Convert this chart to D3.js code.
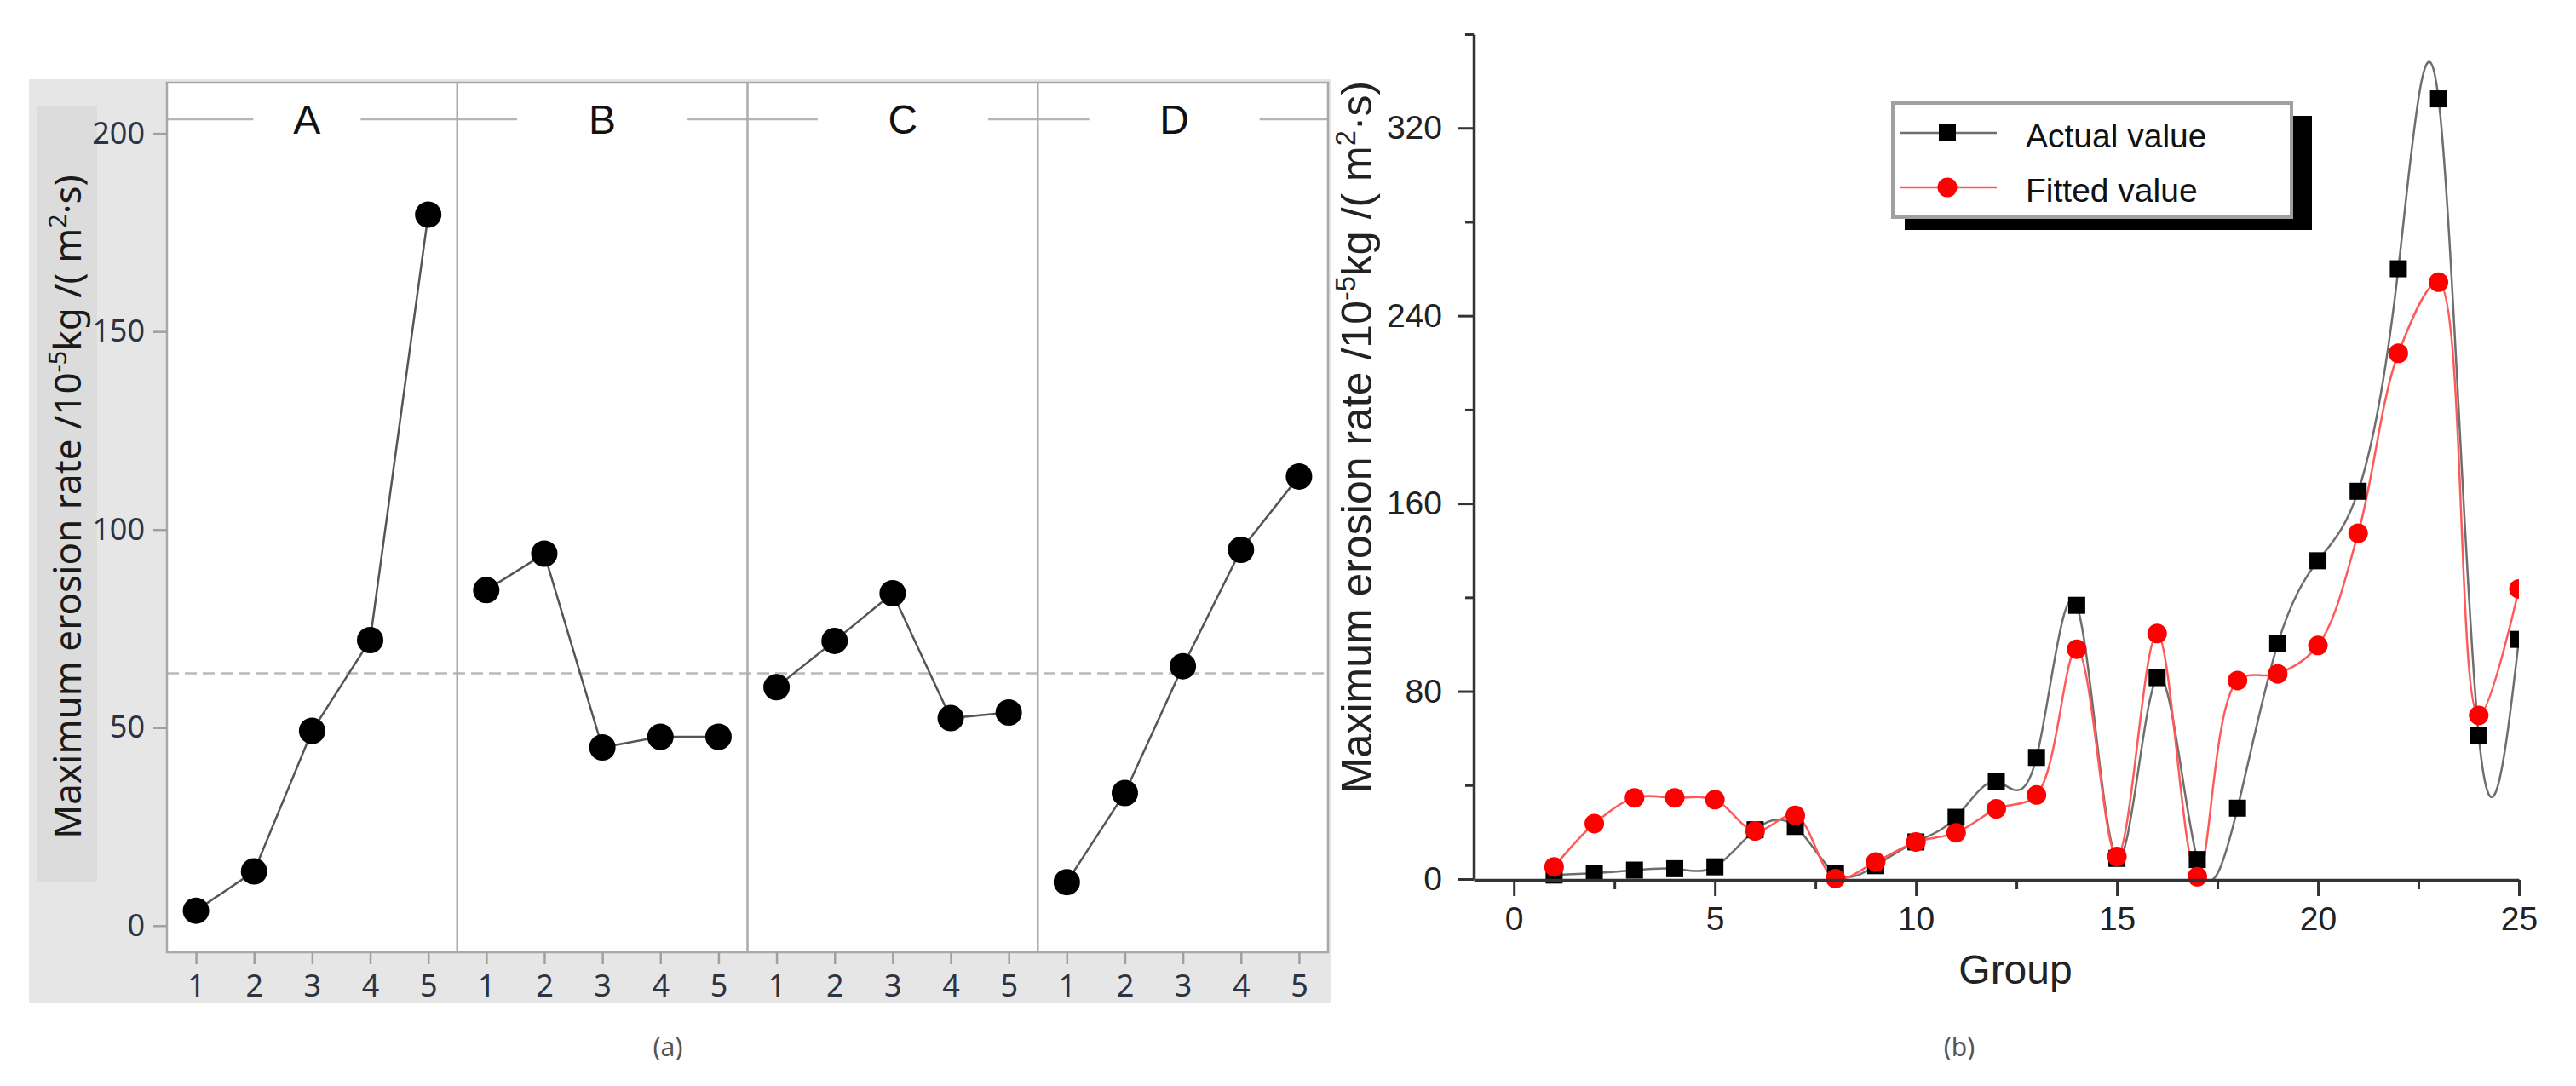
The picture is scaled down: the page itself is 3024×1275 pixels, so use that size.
<!DOCTYPE html>
<html>
<head>
<meta charset="utf-8">
<script src="https://cdn.jsdelivr.net/npm/d3@7"></script>
<style>
  html, body { margin: 0; padding: 0; background: #ffffff; }
  svg { display: block; }
</style>
</head>
<body>
<svg id="chart" width="3024" height="1275"></svg>
<script>
// ---------------- Data: panel (a) main-effects plot ----------------
const factorLabels = ["A", "B", "C", "D"];
const levels = [1, 2, 3, 4, 5];
const meansA = [3.8, 13.7, 49.2, 72.1, 179.5];
const meansB = [84.7, 93.9, 45.0, 47.7, 47.7];
const meansC = [60.2, 71.9, 83.9, 52.4, 53.8];
const meansD = [11.0, 33.5, 65.5, 94.9, 113.4];
const grandMean = 63.7;
const yTicksA = [0, 50, 100, 150, 200];
const yLabelA = ["Maximum erosion rate /10", "-5", "kg /( m", "2", "·s)"];

// ---------------- Data: panel (b) actual vs fitted ----------------
const groups = [1, 2, 3, 4, 5, 6, 7, 8, 9, 10, 11, 12, 13, 14, 15, 16, 17, 18, 19, 20, 21, 22, 23, 24, 25];
const actualValues = [1.7, 2.5, 3.8, 4.4, 5.2, 21.0, 22.4, 2.5, 5.7, 15.8, 26.3, 41.5, 51.8, 116.6, 8.8, 85.8, 8.3, 30.2, 100.2, 135.6, 165.2, 260.0, 332.4, 61.1, 102.1];
const fittedValues = [5.2, 23.6, 34.6, 34.6, 33.8, 20.5, 27.1, 0.2, 7.3, 15.8, 19.7, 29.9, 35.8, 97.9, 9.6, 104.6, 1.0, 84.6, 87.4, 99.5, 147.3, 224.0, 254.3, 69.7, 123.6];
const seriesNames = ["Actual value", "Fitted value"];
const yTicksBMajor = [0, 80, 160, 240, 320];
const yTicksBMinor = [40, 120, 200, 280, 360];
const xTicksBMajor = [0, 5, 10, 15, 20, 25];
const xTicksBMinor = [2.5, 7.5, 12.5, 17.5, 22.5];
const xLabelB = "Group";
const yLabelB = ["Maximum erosion rate /10", "-5", "kg /( m", "2", "·s)"];

const meansByFactor = [meansA, meansB, meansC, meansD];

const svg = d3.select("#chart");
svg.append("rect").attr("width", 3024).attr("height", 1275).attr("fill", "#ffffff");

// helper to write text with superscripts (parts alternate normal / sup)
function richText(sel, parts, fs) {
  const up = fs * 0.38;
  parts.forEach((p, i) => {
    const isSup = i % 2 === 1;
    const t = sel.append("tspan").text(p);
    if (isSup) { t.attr("font-size", fs * 0.65).attr("dy", -up); }
    else if (i > 0) { t.attr("dy", up); }
  });
}

// =================== PANEL (a) ===================
const A = { left: 196, right: 1559, top: 97, bottom: 1118 };
const fontA = "'Noto Sans', 'Open Sans', sans-serif";
const gA = svg.append("g");

gA.append("rect").attr("x", 34).attr("y", 93).attr("width", 1528).attr("height", 1085).attr("fill", "#e6e6e6");
gA.append("rect").attr("x", 43).attr("y", 125).attr("width", 71).attr("height", 910).attr("fill", "#dcdcdc");
gA.append("rect").attr("x", A.left).attr("y", A.top).attr("width", A.right - A.left).attr("height", A.bottom - A.top).attr("fill", "#ffffff");

const yA = d3.scaleLinear().domain([0, 200]).range([1086.8, 156.6]);
const panelX = d3.scaleBand().domain(factorLabels).range([A.left, A.right]);

// mean reference line
gA.append("line")
  .attr("x1", A.left).attr("x2", A.right)
  .attr("y1", yA(grandMean)).attr("y2", yA(grandMean))
  .attr("stroke", "#b9b9b9").attr("stroke-width", 2.5).attr("stroke-dasharray", "14,7");

// strip lines with gaps around labels
const stripY = 140;
const stripOffsets = [-6, 0, 12, -10];
const stripGaps = [126, 200, 200, 200];
factorLabels.forEach((f, i) => {
  const x0 = panelX(f), x1 = x0 + panelX.bandwidth();
  const cx = x0 + panelX.bandwidth() / 2 + stripOffsets[i];
  const g0 = cx - stripGaps[i] / 2, g1 = cx + stripGaps[i] / 2;
  gA.append("line").attr("x1", x0).attr("x2", g0).attr("y1", stripY).attr("y2", stripY)
    .attr("stroke", "#b5b5b5").attr("stroke-width", 2.5);
  gA.append("line").attr("x1", g1).attr("x2", x1).attr("y1", stripY).attr("y2", stripY)
    .attr("stroke", "#b5b5b5").attr("stroke-width", 2.5);
  gA.append("text").attr("x", cx).attr("y", 157).attr("text-anchor", "middle")
    .attr("font-family", "'Liberation Sans', Arial, sans-serif").attr("font-size", 48)
    .attr("fill", "#111").text(f);
});

// dividers
factorLabels.slice(1).forEach(f => {
  gA.append("line").attr("x1", panelX(f)).attr("x2", panelX(f)).attr("y1", A.top).attr("y2", A.bottom)
    .attr("stroke", "#ababab").attr("stroke-width", 2.5);
});
// frame
gA.append("rect").attr("x", A.left).attr("y", A.top).attr("width", A.right - A.left).attr("height", A.bottom - A.top)
  .attr("fill", "none").attr("stroke", "#a8a8a8").attr("stroke-width", 2.5);

// data lines and points, x axes per panel
factorLabels.forEach((f, i) => {
  const x0 = panelX(f);
  const xs = d3.scalePoint().domain(levels).range([x0, x0 + panelX.bandwidth()]).padding(0.5);
  const data = levels.map((lv, j) => ({ lv, v: meansByFactor[i][j] }));
  gA.append("path").datum(data)
    .attr("d", d3.line().x(d => xs(d.lv)).y(d => yA(d.v)))
    .attr("fill", "none").attr("stroke", "#555555").attr("stroke-width", 2.5);
  gA.selectAll(null).data(data).enter().append("circle")
    .attr("cx", d => xs(d.lv)).attr("cy", d => yA(d.v)).attr("r", 15.5).attr("fill", "#000");

  const ax = gA.append("g").attr("transform", `translate(0,${A.bottom})`)
    .call(d3.axisBottom(xs).tickSize(14).tickPadding(12));
  ax.select(".domain").remove();
  ax.selectAll("line").attr("stroke", "#a0a0a0").attr("stroke-width", 2.5);
  ax.selectAll("text").attr("font-family", fontA).attr("font-size", 36).attr("fill", "#2d3340");
});

const ayA = gA.append("g").attr("transform", `translate(${A.left},0)`)
  .call(d3.axisLeft(yA).tickValues(yTicksA).tickSize(16).tickPadding(10));
ayA.select(".domain").remove();
ayA.selectAll("line").attr("stroke", "#a0a0a0").attr("stroke-width", 2.5);
ayA.selectAll("text").attr("font-family", fontA).attr("font-size", 36).attr("fill", "#2d3340");

const labA = gA.append("text").attr("transform", "translate(95,595) rotate(-90)")
  .attr("text-anchor", "middle").attr("font-family", fontA).attr("font-size", 44).attr("fill", "#1a1a1a");
richText(labA, yLabelA, 44);

svg.append("text").attr("x", 784).attr("y", 1240).attr("text-anchor", "middle")
  .attr("font-family", fontA).attr("font-size", 30).attr("fill", "#555").text("(a)");

// =================== PANEL (b) ===================
const B = { left: 1730, right: 2957, top: 39, bottom: 1033 };
const fontB = "'Liberation Sans', Arial, sans-serif";
const gB = svg.append("g");
const xB = d3.scaleLinear().domain([-1, 25]).range([B.left, B.right]);
const yB = d3.scaleLinear().domain([0, 360]).range([B.bottom - 1, B.top + 1]);

svg.append("defs").html(
  `<clipPath id="clipB"><rect x="${B.left}" y="${B.top}" width="${B.right - B.left}" height="${B.bottom - B.top}"></rect></clipPath>` +
  `<clipPath id="clipBm"><rect x="${B.left}" y="0" width="${B.right - B.left}" height="1275"></rect></clipPath>`
);

const actualData = groups.map((g, i) => ({ g, v: actualValues[i] }));
const fittedData = groups.map((g, i) => ({ g, v: fittedValues[i] }));
const curveActual = d3.line().x(d => xB(d.g)).y(d => yB(d.v)).curve(d3.curveNatural);
const curveFitted = d3.line().x(d => xB(d.g)).y(d => yB(d.v)).curve(d3.curveCatmullRom.alpha(0.5));

gB.append("path").datum(actualData).attr("d", curveActual).attr("clip-path", "url(#clipB)")
  .attr("fill", "none").attr("stroke", "#6e6e6e").attr("stroke-width", 2.5);
gB.append("path").datum(fittedData).attr("d", curveFitted).attr("clip-path", "url(#clipB)")
  .attr("fill", "none").attr("stroke", "#ff5a5a").attr("stroke-width", 2.5);

const mk = gB.append("g").attr("clip-path", "url(#clipBm)");
mk.selectAll(null).data(actualData).enter().append("rect")
  .attr("x", d => xB(d.g) - 10).attr("y", d => yB(d.v) - 10)
  .attr("width", 20).attr("height", 20).attr("fill", "#000");
mk.selectAll(null).data(fittedData).enter().append("circle")
  .attr("cx", d => xB(d.g)).attr("cy", d => yB(d.v)).attr("r", 11.5).attr("fill", "#ff0000");

// axes
function styleAxis(ax) {
  ax.select(".domain").attr("stroke", "#333").attr("stroke-width", 3.5);
  ax.selectAll("line").attr("stroke", "#333").attr("stroke-width", 3);
  ax.selectAll("text").attr("font-family", fontB).attr("font-size", 39).attr("fill", "#222");
}
const axY = gB.append("g").attr("transform", `translate(${B.left},0)`)
  .call(d3.axisLeft(yB).tickValues(yTicksBMajor).tickSize(18).tickPadding(19).tickSizeOuter(0));
styleAxis(axY);
const axYm = gB.append("g").attr("transform", `translate(${B.left},0)`)
  .call(d3.axisLeft(yB).tickValues(yTicksBMinor).tickSize(10).tickFormat("").tickSizeOuter(0));
axYm.select(".domain").remove();
axYm.selectAll("line").attr("stroke", "#333").attr("stroke-width", 3);

const axX = gB.append("g").attr("transform", `translate(0,${B.bottom})`)
  .call(d3.axisBottom(xB).tickValues(xTicksBMajor).tickSize(19).tickPadding(12).tickSizeOuter(0));
styleAxis(axX);
const axXm = gB.append("g").attr("transform", `translate(0,${B.bottom})`)
  .call(d3.axisBottom(xB).tickValues(xTicksBMinor).tickSize(11).tickFormat("").tickSizeOuter(0));
axXm.select(".domain").remove();
axXm.selectAll("line").attr("stroke", "#333").attr("stroke-width", 3);

gB.append("text").attr("x", 2366).attr("y", 1155).attr("text-anchor", "middle")
  .attr("font-family", fontB).attr("font-size", 48).attr("fill", "#222").text(xLabelB);

const labB = gB.append("text").attr("transform", "translate(1610,513) rotate(-90)")
  .attr("text-anchor", "middle").attr("font-family", fontB).attr("font-size", 50).attr("fill", "#222");
richText(labB, yLabelB, 50);

// legend
const L = { x: 2222, y: 121, w: 468, h: 134 };
gB.append("rect").attr("x", L.x + 14).attr("y", L.y + 15).attr("width", L.w + 10).attr("height", L.h).attr("fill", "#000");
gB.append("rect").attr("x", L.x).attr("y", L.y).attr("width", L.w).attr("height", L.h)
  .attr("fill", "#fff").attr("stroke", "#a0a0a0").attr("stroke-width", 4);
const legRows = [
  { name: seriesNames[0], line: "#6e6e6e", y: 156, mark: "square" },
  { name: seriesNames[1], line: "#ff5a5a", y: 220, mark: "circle" }
];
legRows.forEach(r => {
  gB.append("line").attr("x1", 2230).attr("x2", 2344).attr("y1", r.y).attr("y2", r.y)
    .attr("stroke", r.line).attr("stroke-width", 2.5);
  if (r.mark === "square") {
    gB.append("rect").attr("x", 2286 - 10).attr("y", r.y - 10).attr("width", 20).attr("height", 20).attr("fill", "#000");
  } else {
    gB.append("circle").attr("cx", 2286).attr("cy", r.y).attr("r", 11.5).attr("fill", "#ff0000");
  }
  gB.append("text").attr("x", 2378).attr("y", r.y + 17).attr("font-family", fontB).attr("font-size", 39)
    .attr("fill", "#111").text(r.name);
});

svg.append("text").attr("x", 2300).attr("y", 1240).attr("text-anchor", "middle")
  .attr("font-family", fontA).attr("font-size", 30).attr("fill", "#555").text("(b)");
</script>
</body>
</html>
